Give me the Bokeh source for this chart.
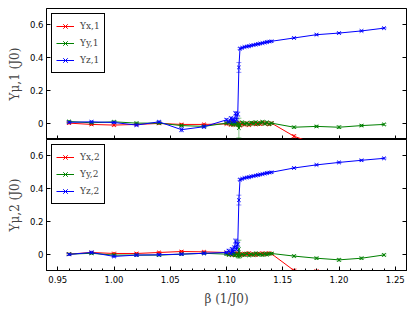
from bokeh.plotting import figure
from bokeh.models import (Range1d, LinearAxis, ColumnDataSource, Legend, LegendItem,
                          FixedTicker, NumeralTickFormatter)
from bokeh.layouts import column
from bokeh.embed import file_html
from bokeh.resources import INLINE

beta = [0.96, 0.98, 1.00, 1.02, 1.04, 1.06, 1.08,
        1.100, 1.102, 1.104, 1.105, 1.106, 1.107, 1.108, 1.109, 1.110, 1.111, 1.112,
        1.114, 1.116, 1.118, 1.120, 1.122, 1.124, 1.126, 1.128, 1.130, 1.132, 1.134, 1.136, 1.138, 1.140,
        1.16, 1.18, 1.20, 1.22, 1.24]

# panel 1 (Upsilon_{mu,1})
ups_x1 = [0.0, -0.008, -0.012, -0.008, -0.002, -0.008, -0.008,
          -0.005, 0.0, -0.01, 0.005, -0.005, 0.0, -0.01, 0.0, -0.005, 0.0, -0.015,
          -0.005, -0.01, 0.0, -0.012, -0.004, 0.002, -0.008, 0.0, -0.006, 0.004, -0.004, 0.0, -0.008, 0.0,
          -0.08, -0.13, -0.2, -0.25, -0.3]
ups_y1 = [0.01, 0.002, 0.008, 0.0, 0.0, -0.015, -0.02,
          0.0, 0.005, -0.005, 0.0, -0.01, 0.005, -0.005, 0.0, -0.01, -0.03, -0.01,
          0.005, -0.005, 0.0, -0.008, 0.004, -0.004, 0.006, -0.006, 0.002, 0.008, -0.004, 0.005, -0.006, 0.0,
          -0.025, -0.02, -0.025, -0.015, -0.008]
ups_z1 = [0.005, 0.008, 0.004, -0.012, 0.008, -0.04, -0.022,
          0.02, 0.01, 0.03, 0.015, 0.025, 0.01, 0.06, 0.02, 0.055, 0.34, 0.455,
          0.46, 0.465, 0.468, 0.47, 0.474, 0.477, 0.48, 0.483, 0.486, 0.489, 0.492, 0.495, 0.498, 0.5,
          0.52, 0.54, 0.55, 0.563, 0.58]
err_x1 = [0.006, 0.006, 0.006, 0.006, 0.006, 0.006, 0.006,
          0.006, 0.006, 0.006, 0.006, 0.006, 0.006, 0.006, 0.006, 0.006, 0.008, 0.006,
          0.006, 0.006, 0.006, 0.006, 0.006, 0.006, 0.006, 0.006, 0.006, 0.006, 0.006, 0.006, 0.006, 0.006,
          0.008, 0.008, 0.008, 0.008, 0.008]
err_y1 = [0.006, 0.006, 0.006, 0.006, 0.006, 0.006, 0.006,
          0.006, 0.006, 0.006, 0.006, 0.006, 0.006, 0.006, 0.006, 0.008, 0.06, 0.008,
          0.006, 0.006, 0.006, 0.006, 0.006, 0.006, 0.006, 0.006, 0.006, 0.006, 0.006, 0.006, 0.006, 0.006,
          0.006, 0.006, 0.008, 0.006, 0.006]
err_z1 = [0.006, 0.006, 0.006, 0.006, 0.006, 0.012, 0.008,
          0.008, 0.008, 0.008, 0.008, 0.008, 0.008, 0.01, 0.008, 0.012, 0.03, 0.006,
          0.004, 0.004, 0.004, 0.004, 0.004, 0.004, 0.004, 0.004, 0.004, 0.004, 0.004, 0.004, 0.004, 0.004,
          0.004, 0.004, 0.004, 0.004, 0.004]

# panel 2 (Upsilon_{mu,2})
ups_x2 = [0.0, 0.01, 0.004, 0.004, 0.01, 0.016, 0.014,
          0.01, 0.0, 0.008, -0.004, 0.005, -0.006, 0.004, 0.0, 0.006, -0.004, 0.002,
          -0.006, 0.004, -0.002, 0.006, -0.004, 0.002, -0.006, 0.004, 0.0, 0.006, -0.002, 0.004, 0.006, 0.002,
          -0.1, -0.105, -0.2, -0.25, -0.3]
ups_y2 = [0.0, 0.005, -0.006, -0.006, -0.006, 0.0, 0.005,
          0.0, -0.005, 0.005, -0.005, 0.0, 0.005, -0.008, 0.0, -0.01, 0.03, -0.01,
          0.0, -0.006, 0.004, -0.008, 0.0, -0.005, 0.005, -0.004, 0.0, -0.006, 0.003, -0.003, 0.002, 0.004,
          -0.012, -0.025, -0.035, -0.025, -0.005]
ups_z2 = [-0.002, 0.01, -0.014, -0.006, -0.004, 0.0, 0.005,
          0.01, 0.02, 0.005, 0.03, 0.015, 0.04, 0.08, 0.03, 0.06, 0.33, 0.455,
          0.46, 0.465, 0.468, 0.47, 0.474, 0.477, 0.48, 0.483, 0.486, 0.489, 0.492, 0.495, 0.498, 0.5,
          0.526, 0.545, 0.56, 0.573, 0.585]
err_x2 = err_x1
err_y2 = [0.006, 0.006, 0.006, 0.006, 0.006, 0.006, 0.006,
          0.006, 0.006, 0.006, 0.006, 0.006, 0.006, 0.006, 0.006, 0.008, 0.055, 0.008,
          0.006, 0.006, 0.006, 0.006, 0.006, 0.006, 0.006, 0.006, 0.006, 0.006, 0.006, 0.006, 0.006, 0.006,
          0.006, 0.006, 0.008, 0.006, 0.006]
err_z2 = [0.006, 0.008, 0.006, 0.006, 0.006, 0.006, 0.006,
          0.008, 0.01, 0.008, 0.01, 0.008, 0.01, 0.012, 0.01, 0.012, 0.03, 0.006,
          0.004, 0.004, 0.004, 0.004, 0.004, 0.004, 0.004, 0.004, 0.004, 0.004, 0.004, 0.004, 0.004, 0.004,
          0.004, 0.004, 0.004, 0.004, 0.004]

x_ticks = [0.95, 1.00, 1.05, 1.10, 1.15, 1.20, 1.25]
x_minor = [0.94, 0.96, 0.97, 0.98, 0.99, 1.01, 1.02, 1.03, 1.04, 1.06, 1.07, 1.08, 1.09,
           1.11, 1.12, 1.13, 1.14, 1.16, 1.17, 1.18, 1.19, 1.21, 1.22, 1.23, 1.24, 1.26]
y_ticks = [0.0, 0.2, 0.4, 0.6]

RED, GREEN, BLUE = "#ff0000", "#008000", "#0000ff"
SERIF = "DejaVu Serif"
SANS = "DejaVu Sans"


def style_ticks(ax):
    ax.axis_line_color = "black"
    ax.major_tick_in = 4
    ax.major_tick_out = 0
    ax.minor_tick_in = 2
    ax.minor_tick_out = 0
    ax.major_tick_line_color = "black"
    ax.minor_tick_line_color = "black"
    ax.major_label_text_font = SANS
    ax.major_label_text_color = "black"
    ax.major_label_text_font_size = "8.5px"
    ax.major_label_standoff = 3


def bare_axis(ticks):
    # axis that shows only inward tick marks (drawn as "minor" ticks so no labels exist)
    ax = LinearAxis(ticker=FixedTicker(ticks=[], minor_ticks=ticks))
    ax.axis_line_color = "black"
    ax.major_tick_in = 0
    ax.major_tick_out = 0
    ax.minor_tick_in = 4
    ax.minor_tick_out = 0
    ax.minor_tick_line_color = "black"
    ax.major_label_standoff = 0
    ax.axis_label_standoff = 0
    return ax


def make_panel(series, ylabel, bottom):
    h = 173 if bottom else 139
    p = figure(width=412, height=h,
               x_range=Range1d(0.94, 1.26), y_range=Range1d(-0.1, 0.7),
               output_backend="svg", toolbar_location=None,
               x_axis_location=None,
               min_border_left=46, min_border_right=6,
               min_border_top=0 if bottom else 8,
               min_border_bottom=42 if bottom else 0)
    p.grid.visible = False
    p.outline_line_color = "black"
    p.outline_line_alpha = 1
    p.background_fill_color = "white"
    p.border_fill_color = "white"

    yt = FixedTicker(ticks=y_ticks, minor_ticks=[])
    p.yaxis.ticker = yt
    style_ticks(p.yaxis[0])
    p.yaxis.axis_label = ylabel
    p.yaxis.axis_label_text_font = SERIF
    p.yaxis.axis_label_text_font_style = "normal"
    p.yaxis.axis_label_text_font_size = "12px"
    p.yaxis.axis_label_standoff = 5

    if bottom:
        xa = LinearAxis(ticker=FixedTicker(ticks=x_ticks, minor_ticks=x_minor))
        style_ticks(xa)
        xa.major_label_standoff = 5
        xa.formatter = NumeralTickFormatter(format="0.00")
        xa.axis_label = "β (1/J0)"
        xa.axis_label_text_font = SERIF
        xa.axis_label_text_font_style = "normal"
        xa.axis_label_text_font_size = "12px"
        xa.axis_label_standoff = 6
        p.add_layout(xa, "below")
    else:
        p.add_layout(bare_axis(x_ticks), "below")

    p.add_layout(bare_axis(y_ticks), "right")

    items = []
    for label, yv, ev, col in series:
        lower = [a - b for a, b in zip(yv, ev)]
        upper = [a + b for a, b in zip(yv, ev)]
        src = ColumnDataSource(dict(x=beta, y=yv, lo=lower, up=upper))
        p.segment(x0="x", y0="lo", x1="x", y1="up", source=src,
                  line_color=col, line_alpha=0.45, line_width=1)
        p.scatter(x="x", y="up", source=src, marker="dash", size=5,
                  line_color=col, line_alpha=0.45, line_width=1)
        p.scatter(x="x", y="lo", source=src, marker="dash", size=5,
                  line_color=col, line_alpha=0.45, line_width=1)
        lr = p.line(x="x", y="y", source=src, line_color=col, line_width=1)
        sr = p.scatter(x="x", y="y", source=src, marker="x", size=5,
                       line_color=col, fill_color=col, line_width=1)
        items.append(LegendItem(label=label, renderers=[sr, lr]))

    leg = Legend(items=items, location="top_left")
    leg.margin = 5
    leg.padding = 4
    leg.spacing = 1
    leg.glyph_width = 18
    leg.glyph_height = 16
    leg.label_height = 16
    leg.label_standoff = 6
    leg.label_text_font = SERIF
    leg.label_text_font_size = "9px"
    leg.border_line_color = "black"
    leg.border_line_alpha = 1
    leg.border_line_width = 1
    leg.background_fill_color = "white"
    leg.background_fill_alpha = 1
    p.add_layout(leg)
    return p


p1 = make_panel([("Υx,1", ups_x1, err_x1, RED),
                 ("Υy,1", ups_y1, err_y1, GREEN),
                 ("Υz,1", ups_z1, err_z1, BLUE)], "Υμ,1 (J0)", False)
p2 = make_panel([("Υx,2", ups_x2, err_x2, RED),
                 ("Υy,2", ups_y2, err_y2, GREEN),
                 ("Υz,2", ups_z2, err_z2, BLUE)], "Υμ,2 (J0)", True)

layout = column(p1, p2, spacing=0)
open("out.html", "w").write(file_html(layout, INLINE))
